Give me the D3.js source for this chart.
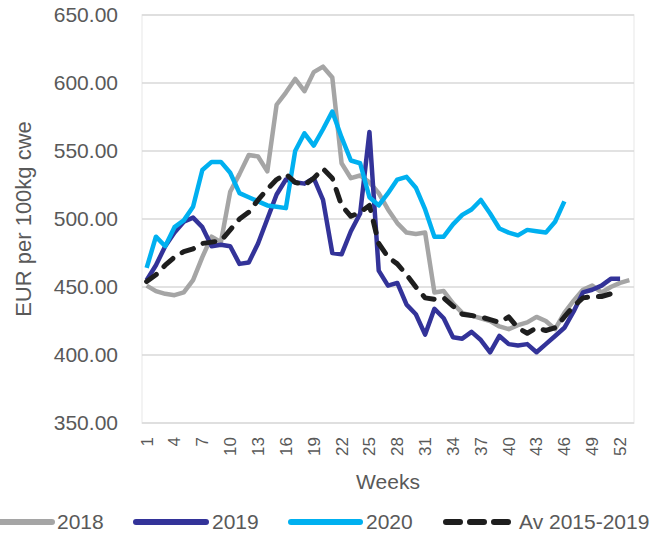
<!DOCTYPE html>
<html>
<head>
<meta charset="utf-8">
<script src="https://cdn.jsdelivr.net/npm/d3@7"></script>
<style>
  html, body { margin: 0; padding: 0; background: #fff; }
  svg { display: block; }
  text { font-family: "Liberation Sans", Arial, sans-serif; fill: #595959; }
</style>
</head>
<body>
<svg id="chart" width="668" height="533"></svg>
<script>
// ---- data ----
const weeks = d3.range(1, 54); // 53 week categories
const yTicks = [350, 400, 450, 500, 550, 600, 650];
const xTickLabels = [1, 4, 7, 10, 13, 16, 19, 22, 25, 28, 31, 34, 37, 40, 43, 46, 49, 52];

const s2018 = [451, 447, 445, 444, 446, 455, 472, 487, 483, 520, 533, 547, 546, 535, 584, 593, 603, 594, 608, 612,
               604, 541, 530, 532, 527, 519, 507, 497, 490, 489, 490, 446, 447, 438, 431, 429, 427, 425, 421, 419,
               422, 424, 428, 425, 419, 431, 440, 448, 451, 446, 450, 453, 455];
const s2019 = [455, 466, 480, 490, 498, 501, 494, 480, 481, 480, 467, 468, 482, 500, 518, 529, 527, 526, 530, 514,
               475, 474, 491, 504, 564, 462, 451, 453, 437, 430, 415, 434, 427, 413, 412, 417, 411, 402, 414, 408,
               407, 408, 402, 408, 414, 420, 432, 446, 448, 451, 456, 456];
const s2020 = [464, 487, 480, 494, 499, 509, 536, 542, 542, 534, 519, 516, 513, 510, 509, 508, 550, 563, 554, 566,
               579, 560, 543, 541, 516, 510, 519, 529, 531, 523, 507, 487, 487, 496, 503, 507, 514, 504, 493, 490,
               488, 492, 491, 490, 498, 513];
const sAvg  = [454, 459, 466, 472, 476, 478, 482, 483, 484, 492, 500, 505, 514, 522, 529, 533, 527, 525, 530, 537,
               530, 510, 502, 505, 510, 482, 472, 467, 459, 450, 442, 441, 442, 436, 430, 429, 428, 426, 424, 428,
               420, 416, 420, 418, 420, 428, 436, 442, 443, 443, 445, 447];

const seriesNames = ["2018", "2019", "2020", "Av 2015-2019"];
const seriesValues = [s2018, s2019, s2020, sAvg];
const seriesColors = ["#a5a5a5", "#333399", "#00b0f0", "#1e1e1e"];
const seriesDash = [null, null, null, "12,11"];

// ---- layout ----
const svg = d3.select("#chart");
const plot = { left: 142, right: 634, top: 15, bottom: 423 };

const x = d3.scaleBand().domain(weeks).range([plot.left, plot.right]).padding(0);
const y = d3.scaleLinear().domain([350, 650]).range([plot.bottom, plot.top]);

// plot border
svg.append("rect")
  .attr("x", plot.left).attr("y", plot.top)
  .attr("width", plot.right - plot.left).attr("height", plot.bottom - plot.top)
  .attr("fill", "none").attr("stroke", "#efefef").attr("stroke-width", 1.5);

// gridlines
svg.append("g").selectAll("line").data(yTicks).join("line")
  .attr("x1", plot.left).attr("x2", plot.right)
  .attr("y1", d => y(d)).attr("y2", d => y(d))
  .attr("stroke", "#d9d9d9").attr("stroke-width", 1.5);

// y axis labels
const yAxis = d3.axisLeft(y).tickValues(yTicks).tickFormat(d3.format(".2f")).tickSize(0).tickPadding(24);
const gy = svg.append("g").attr("transform", `translate(${plot.left},0)`).call(yAxis);
gy.select(".domain").remove();
gy.selectAll("text").attr("font-size", 21).style("font-family", "Liberation Sans, Arial, sans-serif").attr("fill", "#595959");

// x axis labels
const xAxis = d3.axisBottom(x).tickValues(xTickLabels).tickSize(0);
const gx = svg.append("g").attr("transform", `translate(0,${plot.bottom})`).call(xAxis);
gx.select(".domain").remove();
gx.selectAll("text")
  .attr("font-size", 17)
  .attr("fill", "#595959")
  .attr("transform", "rotate(-90)")
  .attr("x", -14).attr("y", 0).attr("dy", "0.35em")
  .style("text-anchor", "end");

// axis titles
svg.append("text")
  .attr("transform", `translate(31,${(plot.top + plot.bottom) / 2}) rotate(-90)`)
  .attr("text-anchor", "middle")
  .attr("font-size", 22)
  .text("EUR per 100kg cwe");

svg.append("text")
  .attr("x", (plot.left + plot.right) / 2).attr("y", 489)
  .attr("text-anchor", "middle")
  .attr("font-size", 21)
  .text("Weeks");

// lines
const line = d3.line()
  .x((d, i) => x(weeks[i]) + x.bandwidth() / 2)
  .y(d => y(d));

svg.append("g").selectAll("path").data(seriesValues).join("path")
  .attr("d", d => line(d))
  .attr("fill", "none")
  .attr("stroke", (d, i) => seriesColors[i])
  .attr("stroke-width", (d, i) => seriesDash[i] ? 5 : 4.5)
  .attr("stroke-linejoin", "round")
  .attr("stroke-linecap", (d, i) => seriesDash[i] ? "round" : "butt")
  .attr("stroke-dasharray", (d, i) => seriesDash[i]);

// legend
const legendItems = [
  { x1: -2, x2: 52, tx: 57 },
  { x1: 136, x2: 206, tx: 212 },
  { x1: 291, x2: 360, tx: 366 },
  { x1: 446, x2: 510, tx: 519 }
];
const lg = svg.append("g");
legendItems.forEach((it, i) => {
  lg.append("line")
    .attr("x1", it.x1).attr("x2", it.x2).attr("y1", 522).attr("y2", 522)
    .attr("stroke", seriesColors[i]).attr("stroke-width", 6)
    .attr("stroke-linecap", "round")
    .attr("stroke-dasharray", seriesDash[i] ? "14,10" : null);
  lg.append("text")
    .attr("x", it.tx).attr("y", 522).attr("dy", "0.35em")
    .attr("font-size", 21)
    .text(seriesNames[i]);
});
</script>
</body>
</html>
